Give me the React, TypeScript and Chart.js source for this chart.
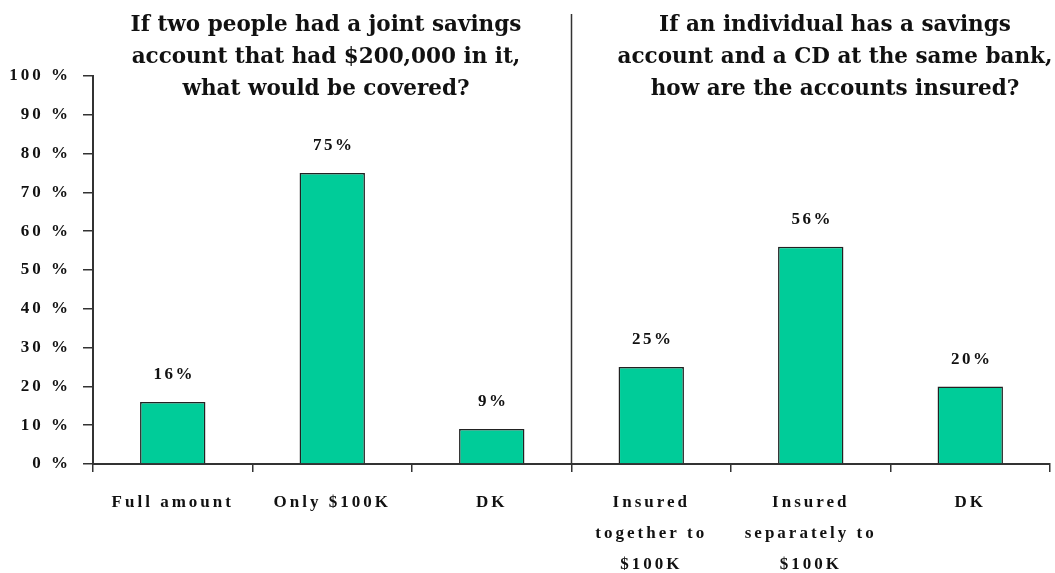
import React, { useEffect, useRef } from 'react';
import { Chart, registerables } from 'chart.js';

Chart.register(...registerables);

const categories: string[][] = [
  ['Full amount'],
  ['Only $100K'],
  ['DK'],
  ['Insured', 'together to', '$100K'],
  ['Insured', 'separately to', '$100K'],
  ['DK'],
];
const values: number[] = [16, 75, 9, 25, 56, 20];
const titleLeft: string[] = [
  'If two people had a joint savings',
  'account that had $200,000 in it,',
  'what would be covered?',
];
const titleRight: string[] = [
  'If an individual has a savings',
  'account and a CD at the same bank,',
  'how are the accounts insured?',
];

const INK = '#111111';
const AXIS = '#333333';
const BAR = '#00CC99';

const overlay = {
  id: 'overlay',
  beforeDraw(chart: any) {
    chart.ctx.letterSpacing = '3px';
  },
  afterDatasetsDraw(chart: any) {
    const ctx = chart.ctx;
    const meta = chart.getDatasetMeta(0);
    ctx.save();
    ctx.fillStyle = INK;
    ctx.textAlign = 'center';
    ctx.textBaseline = 'middle';
    ctx.letterSpacing = '2.5px';
    ctx.font = 'bold 17px "Liberation Serif"';
    meta.data.forEach((bar: any, i: number) => {
      ctx.fillText(values[i] + '%', bar.x + 1.5, bar.y - 27);
    });
    const xs = chart.scales.x;
    const divX = (xs.getPixelForValue(2) + xs.getPixelForValue(3)) / 2;
    ctx.strokeStyle = AXIS;
    ctx.lineWidth = 1.5;
    ctx.beginPath();
    ctx.moveTo(divX, 14);
    ctx.lineTo(divX, chart.chartArea.bottom);
    ctx.stroke();
    ctx.letterSpacing = '0px';
    ctx.font = 'bold 21.5px "DejaVu Serif"';
    titleLeft.forEach((line, i) => ctx.fillText(line, 326, 25 + i * 32));
    titleRight.forEach((line, i) => ctx.fillText(line, 835, 25 + i * 32));
    ctx.restore();
  },
  afterDraw(chart: any) {
    chart.ctx.letterSpacing = '0px';
  },
};

export default function App() {
  const ref = useRef<HTMLCanvasElement | null>(null);
  useEffect(() => {
    document.body.style.margin = '0';
    if (!ref.current) return;
    const chart = new Chart(ref.current, {
      type: 'bar',
      data: {
        labels: categories,
        datasets: [
          {
            data: values,
            backgroundColor: BAR,
            borderColor: '#222222',
            borderWidth: 1.5,
            barPercentage: 0.41,
            categoryPercentage: 1,
          },
        ],
      },
      options: {
        animation: false,
        responsive: true,
        maintainAspectRatio: false,
        layout: { padding: { top: 76, right: 5, left: 0, bottom: 0 } },
        plugins: { legend: { display: false }, tooltip: { enabled: false } },
        scales: {
          x: {
            afterFit: (s: any) => {
              s.height = 109;
            },
            border: { display: true, color: AXIS, width: 2 },
            grid: { drawOnChartArea: false, drawTicks: true, tickLength: 8, color: AXIS, lineWidth: 1.5, offset: true },
            ticks: {
              color: INK,
              padding: 15,
              maxRotation: 0,
              autoSkip: false,
              font: { family: '"Liberation Serif"', weight: 'bold', size: 17, lineHeight: 1.82 },
            },
          },
          y: {
            min: 0,
            max: 100,
            afterFit: (s: any) => {
              s.width = 93;
            },
            border: { display: true, color: AXIS, width: 2 },
            grid: { drawOnChartArea: false, drawTicks: true, tickLength: 10, color: AXIS, lineWidth: 1.5 },
            ticks: {
              stepSize: 10,
              color: INK,
              padding: 12,
              callback: (v: any) => v + ' %',
              font: { family: '"Liberation Serif"', weight: 'bold', size: 17 },
            },
          },
        },
      },
      plugins: [overlay],
    });
    return () => chart.destroy();
  }, []);
  return (
    <div style={{ width: 1055, height: 573, position: 'relative' }}>
      <canvas ref={ref} />
    </div>
  );
}
